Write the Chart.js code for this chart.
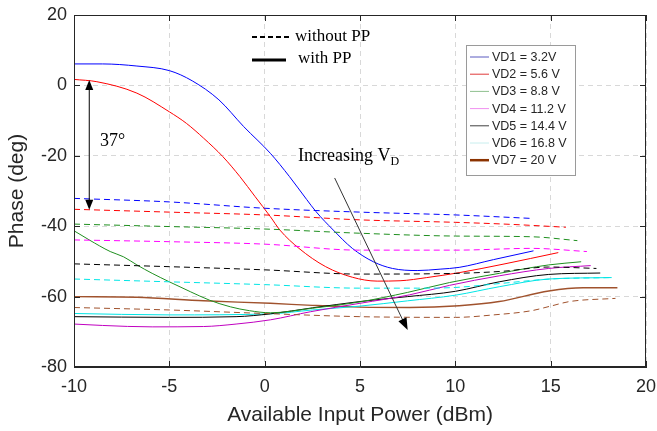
<!DOCTYPE html>
<html>
<head>
<meta charset="utf-8">
<script src="https://cdn.jsdelivr.net/npm/chart.js@4.4.1/dist/chart.umd.min.js"></script>
<style>
  body { margin: 0; background: #fff; }
  canvas { display: block; }
</style>
</head>
<body>
<canvas id="phase-chart" width="657" height="431"></canvas>
<script>
// legend texts
var vdLabels = ["VD1 = 3.2V", "VD2 = 5.6 V", "VD3 = 8.8 V", "VD4 = 11.2 V", "VD5 = 14.4 V", "VD6 = 16.8 V", "VD7 = 20 V"];
var xTicks = [-10, -5, 0, 5, 10, 15, 20];
var yTicks = [-80, -60, -40, -20, 0, 20];

// with PP (solid)
var vd1WithX = [-10, -8.5, -6.7, -5, -3.8, -2.4, -1.1, 0.3, 1.3, 2.2, 2.7, 3.6, 4.6, 5.7, 6.7, 8.0, 9.2, 10.2, 12, 14.1];
var vd1WithY = [6.1, 6.1, 5.5, 4.2, 1.3, -4.1, -11.7, -19.3, -25.9, -32.4, -35.9, -41.1, -46.3, -50.1, -52, -52.6, -52.2, -51.7, -49.5, -47];
var vd2WithX = [-10, -8.8, -6.7, -5, -4.1, -3.2, -2.2, -1.3, -0.5, 0.3, 0.8, 1.8, 3.2, 4.6, 5.9, 7.1, 8.5, 10.2, 12.5, 15.4];
var vd2WithY = [1.7, 1.05, -2.2, -7.5, -10.8, -15, -20.2, -25.9, -31.6, -37.3, -41.1, -46.3, -51.5, -54.5, -55.6, -55.5, -54.6, -53.2, -50.8, -47.5];
var vd3WithX = [-10, -9.2, -8.1, -7.4, -6.7, -5.9, -5, -3.9, -2.9, -1.8, -0.8, 0.3, 2.5, 5, 7.5, 9.7, 12.3, 14.9, 16.6];
var vd3WithY = [-41.3, -43.9, -47.2, -48.7, -51, -53.4, -55.8, -58.6, -61, -62.9, -64, -64.6, -63.3, -61.5, -58.8, -56, -53.4, -51, -50.1];
var vd4WithX = [-10, -8.5, -5.9, -3.2, -1.5, 0.3, 2.4, 5, 7.6, 9.7, 12.3, 14.9, 17.1];
var vd4WithY = [-67.8, -68.2, -68.6, -68.5, -67.8, -66.6, -64.3, -61.9, -59.5, -56.8, -54.1, -52, -51.2];
var vd5WithX = [-10, -5, -1.5, 0.3, 2.5, 5, 7.5, 10, 12.3, 14.9, 17.6];
var vd5WithY = [-65.7, -65.9, -65.7, -64.9, -63.2, -61.4, -60, -58.5, -55.8, -53.7, -53.3];
var vd6WithX = [-10, -5, 0.3, 2.5, 5, 7.5, 10, 12.3, 14.9, 18.2];
var vd6WithY = [-64.8, -65.2, -64.9, -63.8, -62.7, -61.2, -59.6, -57.2, -55, -54.6];
var vd7WithX = [-10, -6.7, -3.2, 0.3, 2.5, 5, 7.6, 10.2, 12.3, 14.9, 16.7, 18.5];
var vd7WithY = [-60, -60.2, -61.2, -61.9, -62.5, -63, -63.1, -62.6, -61.4, -58.4, -57.5, -57.5];

// without PP (dashed)
var vd1WithoutX = [-10, -5, 0, 5, 10, 14.05];
var vd1WithoutY = [-32.1, -33.1, -34.9, -36, -36.8, -37.8];
var vd2WithoutX = [-10, -5, 0, 5, 10, 13, 15.8];
var vd2WithoutY = [-35.2, -36, -36.8, -38.2, -38.9, -39.5, -40.3];
var vd3WithoutX = [-10, -5, 0, 5, 10, 14, 16.4];
var vd3WithoutY = [-39.4, -40.1, -40.8, -42, -42.8, -43, -44.1];
var vd4WithoutX = [-10, -5, 0, 5, 10, 14, 16.9];
var vd4WithoutY = [-43.9, -44.4, -45.1, -46.8, -46.8, -46.3, -47.2];
var vd5WithoutX = [-10, -5, 0, 5, 10, 12.5, 14.9, 17.4];
var vd5WithoutY = [-50.7, -51.5, -52.4, -53.6, -53.4, -52.8, -51.6, -52];
var vd6WithoutX = [-10, -5, 0, 5, 8, 10, 12.5, 15, 18.1];
var vd6WithoutY = [-55, -55.8, -56.6, -57.6, -57.6, -57.4, -56.2, -55, -54.6];
var vd7WithoutX = [-10, -5, 0, 5, 10, 12, 14, 15, 16, 18.4];
var vd7WithoutY = [-63.1, -63.8, -64.8, -65.7, -65.9, -65.2, -64, -62.7, -61.4, -60.5];

var withColors = ["#0000ff", "#ff0000", "#1f8f1f", "#c000c0", "#000000", "#00e5e5", "#a0522d"];
var withoutColors = ["#0000ff", "#ff0000", "#1f8f1f", "#ff00ff", "#000000", "#00e5e5", "#a0522d"];
var legendColors = ["#5a5ac0", "#e03a3a", "#8fc08f", "#f090f0", "#404040", "#c8eeee", "#8b3300"];

var withData = [[vd1WithX, vd1WithY], [vd2WithX, vd2WithY], [vd3WithX, vd3WithY], [vd4WithX, vd4WithY], [vd5WithX, vd5WithY], [vd6WithX, vd6WithY], [vd7WithX, vd7WithY]];
var withoutData = [[vd1WithoutX, vd1WithoutY], [vd2WithoutX, vd2WithoutY], [vd3WithoutX, vd3WithoutY], [vd4WithoutX, vd4WithoutY], [vd5WithoutX, vd5WithoutY], [vd6WithoutX, vd6WithoutY], [vd7WithoutX, vd7WithoutY]];

function pts(xs, ys) {
  return xs.map(function (x, i) { return { x: x, y: ys[i] }; });
}

var datasets = [];
withoutData.forEach(function (d, i) {
  datasets.push({
    label: vdLabels[i] + " (without PP)",
    data: pts(d[0], d[1]),
    borderColor: withoutColors[i],
    borderWidth: 1,
    borderDash: [6, 4],
    pointRadius: 0,
    cubicInterpolationMode: "monotone",
  });
});
withData.forEach(function (d, i) {
  datasets.push({
    label: vdLabels[i],
    data: pts(d[0], d[1]),
    borderColor: withColors[i],
    borderWidth: i == 6 ? 1.4 : 1,
    pointRadius: 0,
    cubicInterpolationMode: "monotone",
  });
});

var serif = "'Liberation Serif', 'Times New Roman', serif";
var sans = "'Liberation Sans', Arial, sans-serif";

function arrowHead(ctx, x1, y1, x2, y2, len, half) {
  var a = Math.atan2(y2 - y1, x2 - x1);
  ctx.beginPath();
  ctx.moveTo(x2, y2);
  ctx.lineTo(x2 - len * Math.cos(a) + half * Math.sin(a), y2 - len * Math.sin(a) - half * Math.cos(a));
  ctx.lineTo(x2 - len * Math.cos(a) - half * Math.sin(a), y2 - len * Math.sin(a) + half * Math.cos(a));
  ctx.closePath();
  ctx.fill();
}

var decor = {
  id: "decor",
  afterDraw: function (chart) {
    var ctx = chart.ctx;
    var a = chart.chartArea;
    var xs = chart.scales.x, ys = chart.scales.y;
    ctx.save();

    // box + inner ticks
    ctx.strokeStyle = "#262626";
    ctx.lineWidth = 1;
    ctx.setLineDash([]);
    ctx.strokeRect(a.left + 0.5, a.top + 0.5, a.right - a.left - 1, a.bottom - a.top - 1);
    ctx.beginPath();
    xTicks.forEach(function (v) {
      var px = Math.round(xs.getPixelForValue(v)) + 0.5;
      ctx.moveTo(px, a.bottom); ctx.lineTo(px, a.bottom - 6);
      ctx.moveTo(px, a.top); ctx.lineTo(px, a.top + 6);
    });
    yTicks.forEach(function (v) {
      var py = Math.round(ys.getPixelForValue(v)) + 0.5;
      ctx.moveTo(a.left, py); ctx.lineTo(a.left + 6, py);
      ctx.moveTo(a.right, py); ctx.lineTo(a.right - 6, py);
    });
    ctx.stroke();

    // line style legend
    ctx.strokeStyle = "#000";
    ctx.fillStyle = "#000";
    ctx.lineWidth = 2;
    ctx.setLineDash([5, 3]);
    ctx.beginPath(); ctx.moveTo(252, 37); ctx.lineTo(289, 37); ctx.stroke();
    ctx.setLineDash([]);
    ctx.lineWidth = 3;
    ctx.beginPath(); ctx.moveTo(252, 60); ctx.lineTo(286, 60); ctx.stroke();
    ctx.font = "17px " + serif;
    ctx.textBaseline = "middle";
    ctx.textAlign = "left";
    ctx.fillText("without PP", 295, 37);
    ctx.fillText("with PP", 298, 59);

    // VD legend box
    ctx.fillStyle = "#fff";
    ctx.fillRect(466, 45, 109, 130);
    ctx.strokeStyle = "#9a9a9a";
    ctx.lineWidth = 1;
    ctx.strokeRect(466.5, 45.5, 109, 130);
    ctx.font = "12.5px " + sans;
    vdLabels.forEach(function (lab, i) {
      var y = 57 + i * 17.2;
      ctx.strokeStyle = legendColors[i];
      ctx.lineWidth = i == 6 ? 2.5 : 1;
      ctx.beginPath(); ctx.moveTo(470, y); ctx.lineTo(489, y); ctx.stroke();
      ctx.fillStyle = "#262626";
      ctx.fillText(lab, 492, y + 0.5);
    });

    // 37 degree double arrow
    ctx.strokeStyle = "#000";
    ctx.fillStyle = "#000";
    ctx.lineWidth = 1;
    var ax = xs.getPixelForValue(-9.2);
    var ay1 = ys.getPixelForValue(1.5), ay2 = ys.getPixelForValue(-35.3);
    ctx.beginPath(); ctx.moveTo(ax, ay1 + 6); ctx.lineTo(ax, ay2 - 6); ctx.stroke();
    arrowHead(ctx, ax, ay2, ax, ay1, 10, 4);
    arrowHead(ctx, ax, ay1, ax, ay2, 10, 4);
    ctx.font = "18px " + serif;
    ctx.fillText("37°", 100, 141);

    // increasing VD arrow
    ctx.strokeStyle = "#333";
    ctx.fillStyle = "#000";
    var bx1 = xs.getPixelForValue(3.67), by1 = ys.getPixelForValue(-26.3);
    var bx2 = xs.getPixelForValue(7.5), by2 = ys.getPixelForValue(-69.5);
    ctx.beginPath(); ctx.moveTo(bx1, by1); ctx.lineTo(bx2 - 3, by2 - 6); ctx.stroke();
    arrowHead(ctx, bx1, by1, bx2, by2, 12, 4.5);
    ctx.font = "18px " + serif;
    ctx.fillText("Increasing V", 298, 156);
    var w = ctx.measureText("Increasing V").width;
    ctx.font = "12px " + serif;
    ctx.fillText("D", 298 + w, 162);

    ctx.restore();
  }
};

var ctx = document.getElementById("phase-chart");
var chartGraph = new Chart(ctx, {
  type: "line",
  data: { datasets: datasets },
  options: {
    responsive: false,
    animation: false,
    layout: { padding: { top: 15, right: 11, left: 0, bottom: 0 } },
    plugins: { legend: { display: false }, tooltip: { enabled: false } },
    scales: {
      x: {
        type: "linear",
        min: -10,
        max: 20,
        afterBuildTicks: function (s) { s.ticks = xTicks.map(function (v) { return { value: v }; }); },
        afterFit: function (s) { s.height = 64; s.paddingLeft = 0; s.paddingRight = 0; },
        ticks: { color: "#262626", font: { size: 18, family: sans }, padding: 9, maxRotation: 0 },
        grid: { color: "#d8d8d8", drawTicks: false, lineWidth: 1 },
        border: { color: "#262626", dash: [5, 4] },
        title: { display: true, text: "Available Input Power (dBm)", color: "#262626", font: { size: 21, family: sans }, padding: { top: 0, bottom: 3 } },
      },
      y: {
        type: "linear",
        min: -80,
        max: 20,
        afterBuildTicks: function (s) { s.ticks = yTicks.map(function (v) { return { value: v }; }); },
        afterFit: function (s) { s.width = 74; s.paddingTop = 0; s.paddingBottom = 0; },
        ticks: { color: "#262626", font: { size: 18, family: sans }, padding: 7 },
        grid: { color: "#d8d8d8", drawTicks: false, lineWidth: 1 },
        border: { color: "#262626", dash: [5, 4] },
        title: { display: true, text: "Phase (deg)", color: "#262626", font: { size: 21, family: sans }, padding: { top: 5, bottom: 0 } },
      },
    },
  },
  plugins: [decor],
});
</script>
</body>
</html>
